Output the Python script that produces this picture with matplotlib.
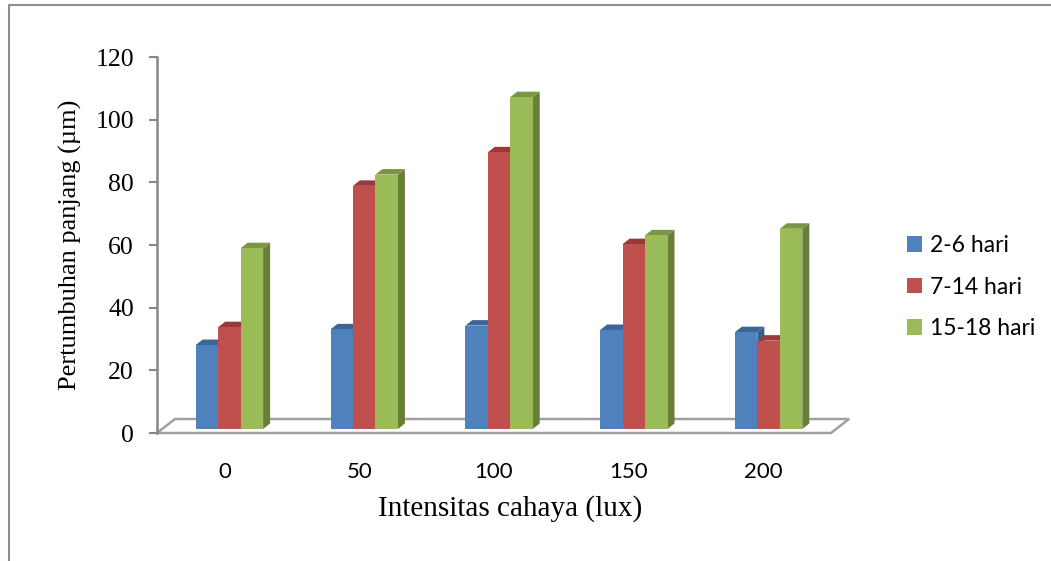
import matplotlib
matplotlib.use("Agg")
import matplotlib.pyplot as plt
from matplotlib.patches import Polygon, Patch
from matplotlib.lines import Line2D

categories = ["0", "50", "100", "150", "200"]
series_names = ["2-6 hari", "7-14 hari", "15-18 hari"]
s_2_6 = [26.8, 31.8, 33.0, 31.6, 30.9]
s_7_14 = [32.5, 77.6, 88.3, 59.0, 28.2]
s_15_18 = [57.7, 81.2, 105.9, 61.8, 63.9]
y_ticks = [0, 20, 40, 60, 80, 100, 120]

front_cols = ["#4F81BD", "#C0504D", "#9BBB59"]
top_cols = ["#3D6597", "#983B38", "#7A9545"]
side_cols = ["#375D8A", "#8C3734", "#687F38"]

W, H = 1051, 561
fig = plt.figure(figsize=(W / 100, H / 100), dpi=100)
ax_l, ax_r, ax_t, ax_b = 157, 831, 57, 433
ax = fig.add_axes([ax_l / W, (H - ax_b) / H, (ax_r - ax_l) / W, (ax_b - ax_t) / H])
ax.set_xlim(0, len(categories))
ax.set_ylim(0, 120)

px_x = len(categories) / (ax_r - ax_l)
px_y = 120 / (ax_b - ax_t)

# floor
Fx, Fy = 18 * px_x, 14 * px_y
n = len(categories)
floor = Polygon([(0, 0), (n, 0), (n + Fx, Fy), (Fx, Fy)], closed=True,
                facecolor="white", edgecolor="#A0A0A0", lw=1.8, clip_on=False, zorder=1)
ax.add_patch(floor)

# bars
fx, fy = 5 * px_x, 4 * px_y
dx, dy = 7 * px_x, 5.5 * px_y
bw = 0.5 / 3
series = [s_2_6, s_7_14, s_15_18]
z = 2
for i in range(n):
    for j, s in enumerate(series):
        v = s[i]
        x0 = i + 0.25 + j * bw + fx
        x1 = x0 + bw
        y0 = fy
        y1 = fy + v
        side = Polygon([(x1, y0), (x1 + dx, y0 + dy), (x1 + dx, y1 + dy), (x1, y1)],
                       closed=True, facecolor=side_cols[j], edgecolor="none", clip_on=False, zorder=z)
        top = Polygon([(x0, y1), (x1, y1), (x1 + dx, y1 + dy), (x0 + dx, y1 + dy)],
                      closed=True, facecolor=top_cols[j], edgecolor="none", clip_on=False, zorder=z)
        front = Polygon([(x0, y0), (x1, y0), (x1, y1), (x0, y1)],
                        closed=True, facecolor=front_cols[j], edgecolor="none", clip_on=False, zorder=z + 0.5)
        ax.add_patch(side)
        ax.add_patch(top)
        ax.add_patch(front)
        z += 1

# axes styling
for sp in ["top", "right", "bottom"]:
    ax.spines[sp].set_visible(False)
ax.spines["left"].set_color("#868686")
ax.spines["left"].set_linewidth(1.8)
ax.set_yticks(y_ticks)
ax.set_yticklabels([str(t) for t in y_ticks], fontfamily="Liberation Serif", fontsize=18.5)
ax.tick_params(axis="y", direction="out", length=5.5, width=1.5, color="#868686", pad=11)
ax.set_xticks([i + 0.5 for i in range(n)])
ax.set_xticklabels(categories, fontfamily="Lato", fontsize=16)
ax.tick_params(axis="x", length=0, pad=21)

ax.set_ylabel("Pertumbuhan panjang (µm)", fontfamily="Liberation Serif", fontsize=19)
ax.yaxis.label.set_verticalalignment("center")
ax.yaxis.set_label_coords((70 - ax_l) / (ax_r - ax_l), 0.5)
ax.set_xlabel("Intensitas cahaya (lux)", fontfamily="Liberation Serif", fontsize=21)
ax.xaxis.label.set_verticalalignment("center")
ax.xaxis.set_label_coords((510 - ax_l) / (ax_r - ax_l), (ax_b - 509) / (ax_b - ax_t))

handles = [Patch(facecolor=c, edgecolor="none") for c in front_cols]
leg = fig.legend(handles, series_names, loc="center left",
                 bbox_to_anchor=(907 / W, 1 - 287 / H), bbox_transform=fig.transFigure,
                 frameon=False, borderpad=0, borderaxespad=0,
                 handlelength=0.66, handleheight=0.66, handletextpad=0.35,
                 labelspacing=0.9, prop={"family": "Lato", "size": 16.5})

# outer frame
fig.add_artist(Line2D([9 / W, 9 / W, 1.0], [0.0, 1 - 5 / H, 1 - 5 / H],
                      transform=fig.transFigure, color="#8C8C8C", lw=1.5))

fig.savefig("out.png", dpi=100)
